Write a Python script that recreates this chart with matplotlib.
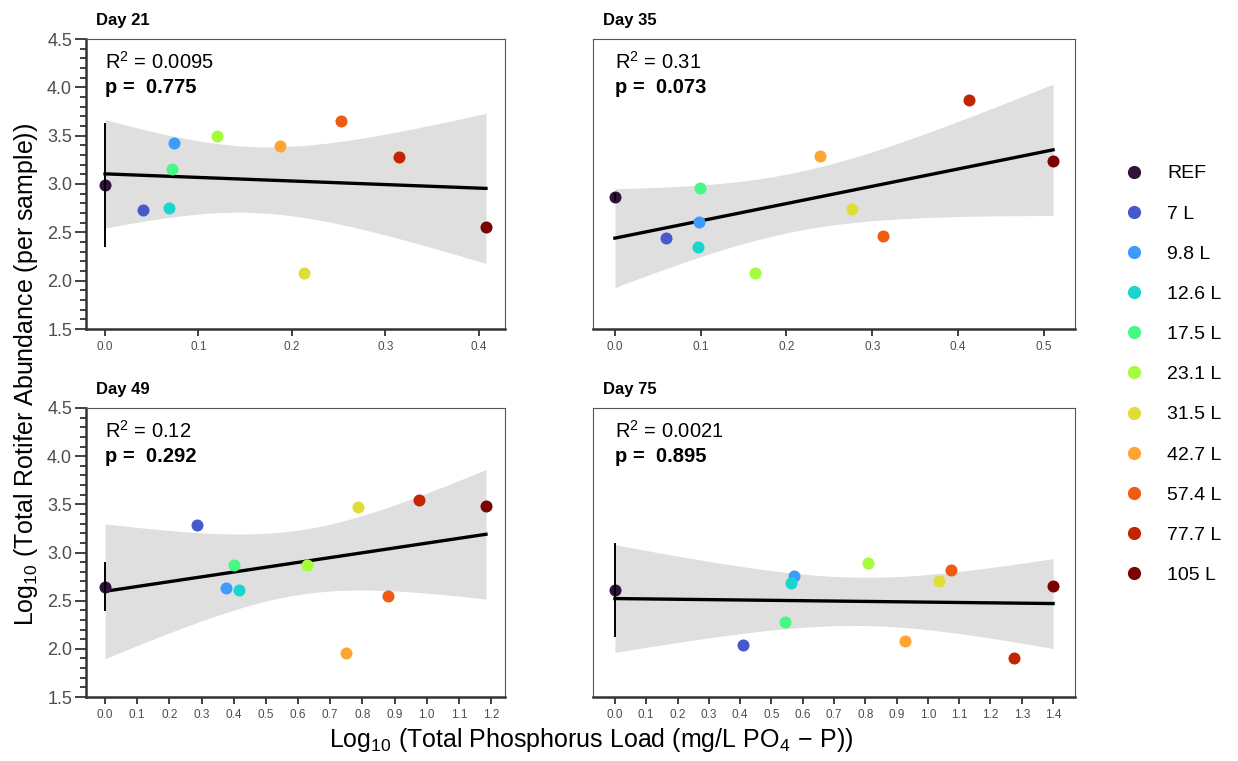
import numpy as np
import matplotlib
matplotlib.use("Agg")
import matplotlib.pyplot as plt
from matplotlib.lines import Line2D
from matplotlib.ticker import MultipleLocator, FormatStrFormatter
import matplotlib.transforms as mtransforms

plt.rcParams['font.family'] = ['Liberation Sans', 'DejaVu Sans']
plt.rcParams['mathtext.fontset'] = 'custom'
plt.rcParams['mathtext.rm'] = 'Liberation Sans'
plt.rcParams['mathtext.it'] = 'Liberation Sans:italic'
plt.rcParams['mathtext.bf'] = 'Liberation Sans:bold'

# ---------------- data ----------------
treatments = ["REF", "7 L", "9.8 L", "12.6 L", "17.5 L", "23.1 L",
              "31.5 L", "42.7 L", "57.4 L", "77.7 L", "105 L"]
days = ["Day 21", "Day 35", "Day 49", "Day 75"]

x_day21 = [0.0, 0.041, 0.0733, 0.0687, 0.0722, 0.1196, 0.2125, 0.1868, 0.253, 0.3146, 0.4078]
y_day21 = [2.99, 2.728, 3.424, 2.755, 3.159, 3.50, 2.079, 3.397, 3.648, 3.276, 2.552]

x_day35 = [0.0, 0.0594, 0.0982, 0.097, 0.099, 0.163, 0.2768, 0.239, 0.3129, 0.4134, 0.5109]
y_day35 = [2.862, 2.438, 2.610, 2.348, 2.959, 2.083, 2.738, 3.29, 2.466, 3.866, 3.238]

x_day49 = [0.0, 0.287, 0.375, 0.415, 0.402, 0.629, 0.787, 0.75, 0.879, 0.977, 1.184]
y_day49 = [2.647, 3.286, 2.628, 2.610, 2.869, 2.869, 3.472, 1.955, 2.552, 3.545, 3.479]

x_day75 = [0.0, 0.408, 0.572, 0.563, 0.545, 0.809, 1.034, 0.928, 1.073, 1.275, 1.40]
y_day75 = [2.612, 2.041, 2.755, 2.683, 2.279, 2.893, 2.707, 2.079, 2.814, 1.907, 2.652]

ref_err = [0.643, 0.04, 0.257, 0.485]
r2_labels = ["0.0095", "0.31", "0.12", "0.0021"]
p_labels = ["0.775", "0.073", "0.292", "0.895"]
x_tick_max = [0.4, 0.5, 1.2, 1.4]

xs = [x_day21, x_day35, x_day49, x_day75]
ys = [y_day21, y_day35, y_day49, y_day75]

colors = plt.cm.turbo(np.linspace(0, 1, len(treatments)))
T_CRIT = 2.262  # t(0.975, df=9)

fig = plt.figure(figsize=(12.38, 7.61), dpi=100)
W, H = 1238, 761
boxes = [(86, 39, 505, 329), (593, 39, 1075, 329),
         (86, 408, 505, 697), (593, 408, 1075, 697)]
axes = []
for (l, t, r, b) in boxes:
    axes.append(fig.add_axes([l / W, 1 - b / H, (r - l) / W, (b - t) / H]))

spine_dark = '#333333'
for i, ax in enumerate(axes):
    x = np.array(xs[i]); y = np.array(ys[i])
    n = len(x)
    # linear fit & confidence band
    b1, b0 = np.polyfit(x, y, 1)
    xg = np.linspace(x.min(), x.max(), 80)
    yhat = b0 + b1 * xg
    resid = y - (b0 + b1 * x)
    s = np.sqrt(np.sum(resid ** 2) / (n - 2))
    sxx = np.sum((x - x.mean()) ** 2)
    se = s * np.sqrt(1 / n + (xg - x.mean()) ** 2 / sxx)
    ax.fill_between(xg, yhat - T_CRIT * se, yhat + T_CRIT * se,
                    color='#DFDFDF', lw=0, zorder=1)
    ax.plot(xg, yhat, color='black', lw=2.4, zorder=2)
    for j in range(n):
        ax.scatter(x[j], y[j], s=75, color=colors[j], lw=0, zorder=3)
    ax.vlines(x[0], y[0] - ref_err[i], y[0] + ref_err[i], color='black',
              lw=1.4, zorder=4)

    rng = x.max() - x.min()
    ax.set_xlim(x.min() - 0.05 * rng, x.max() + 0.05 * rng)
    ax.set_ylim(1.5, 4.5)
    ax.set_xticks(np.round(np.arange(0, x_tick_max[i] + 1e-9, 0.1), 1))
    ax.xaxis.set_major_formatter(FormatStrFormatter('%.1f'))
    ax.tick_params(axis='x', length=5, width=1.3, color=spine_dark,
                   labelsize=8.5, labelcolor='#4D4D4D', pad=4)
    for sp in ['top', 'right', 'left', 'bottom']:
        ax.spines[sp].set_color('#555555')
        ax.spines[sp].set_linewidth(0.8)
    ax.spines['bottom'].set_color(spine_dark)
    ax.spines['bottom'].set_linewidth(1.8)
    if i % 2 == 0:
        ax.spines['left'].set_color(spine_dark)
        ax.spines['left'].set_linewidth(1.8)
        ax.yaxis.set_major_locator(MultipleLocator(0.5))
        ax.yaxis.set_minor_locator(MultipleLocator(0.1))
        ax.yaxis.set_major_formatter(FormatStrFormatter('%.1f'))
        ax.tick_params(axis='y', which='major', length=8, width=1.3,
                       color=spine_dark, labelsize=13, labelcolor='#4D4D4D', pad=2)
        ax.tick_params(axis='y', which='minor', length=4.5, width=1.3,
                       color=spine_dark)
    else:
        ax.tick_params(axis='y', which='both', left=False, labelleft=False)

    # facet title
    ax.annotate(days[i], xy=(0, 1), xycoords='axes fraction',
                xytext=(10, 14), textcoords='offset pixels',
                fontsize=12, fontweight='bold', ha='left', va='baseline')
    trans = mtransforms.blended_transform_factory(ax.transData, ax.transAxes)
    ax.text(0.0, 0.897, r'R$^{2}$ = ' + r2_labels[i], transform=trans,
            fontsize=14.5, ha='left', va='baseline')
    ax.text(0.0, 0.814, 'p =  ' + p_labels[i], transform=trans,
            fontsize=14.5, fontweight='bold', ha='left', va='baseline')

fig.text(0.021, 0.508,
         r'$\mathrm{Log}_{10}\ \left(\mathrm{Total\ Rotifer\ Abundance}\ \left(\mathrm{per\ sample}\right)\right)$',
         rotation=90, fontsize=18, ha='center', va='center')
fig.text(0.4775, 0.027,
         r'$\mathrm{Log}_{10}\ \left(\mathrm{Total\ Phosphorus\ Load}\ \left(\mathrm{mg/L\ PO_4\,-\,P}\right)\right)$',
         fontsize=18, ha='center', va='center')

handles = [Line2D([], [], marker='o', ls='none', markersize=9.5,
                  markerfacecolor=colors[j], markeredgewidth=0)
           for j in range(len(treatments))]
fig.legend(handles, treatments, loc='center left',
           bbox_to_anchor=(0.908, 0.508), frameon=False, fontsize=14,
           labelspacing=1.16, handlelength=1.0, handletextpad=1.2,
           borderpad=0, borderaxespad=0)

fig.savefig('out.png', dpi=100)
